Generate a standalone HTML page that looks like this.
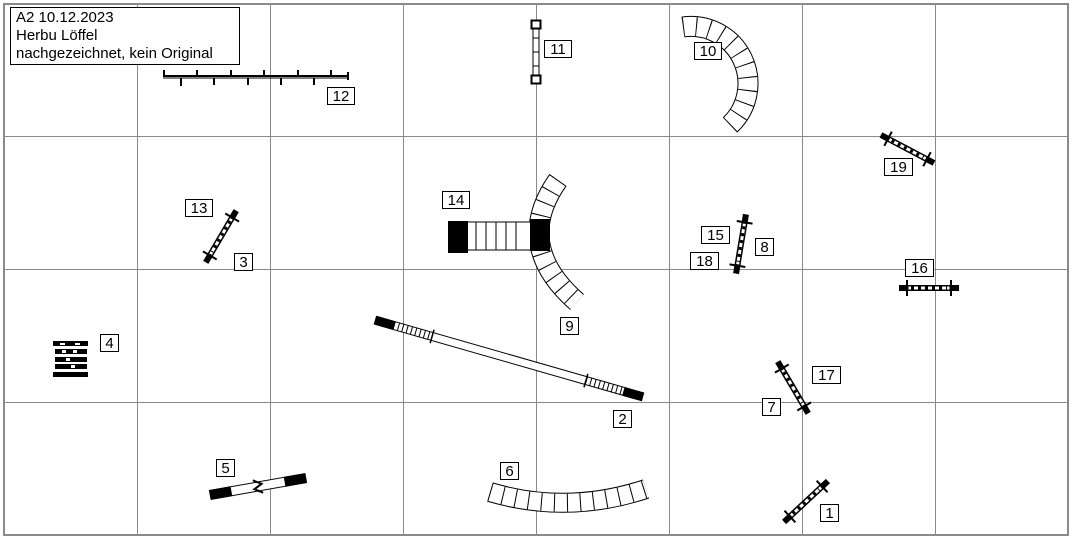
<!DOCTYPE html>
<html><head><meta charset="utf-8"><style>
html,body{margin:0;padding:0;background:#fff}
svg{display:block}
text{font-family:"Liberation Sans",Arial,sans-serif;font-size:15px;fill:#000}
</style></head><body>
<svg width="1071" height="539" viewBox="0 0 1071 539" xmlns="http://www.w3.org/2000/svg">
<defs>
<g id="jump">
  <rect x="-30" y="-3" width="60" height="6" fill="#000"/>
  <rect x="-21" y="-2" width="42" height="4" fill="#fff" stroke="#000" stroke-width="1"/>
  <line x1="-18" y1="0" x2="18" y2="0" stroke="#000" stroke-width="3" stroke-dasharray="3 4"/>
  <line x1="-22" y1="-8" x2="-22" y2="8" stroke="#000" stroke-width="2"/>
  <line x1="22" y1="-8" x2="22" y2="8" stroke="#000" stroke-width="2"/>
</g>
</defs>
<g stroke="#8a8a8a" stroke-width="1">
  <line x1="137.5" y1="4" x2="137.5" y2="535"/>
  <line x1="270.5" y1="4" x2="270.5" y2="535"/>
  <line x1="403.5" y1="4" x2="403.5" y2="535"/>
  <line x1="536.5" y1="4" x2="536.5" y2="535"/>
  <line x1="669.5" y1="4" x2="669.5" y2="535"/>
  <line x1="802.5" y1="4" x2="802.5" y2="535"/>
  <line x1="935.5" y1="4" x2="935.5" y2="535"/>
  <line x1="4" y1="136.5" x2="1068" y2="136.5"/>
  <line x1="4" y1="269.5" x2="1068" y2="269.5"/>
  <line x1="4" y1="402.5" x2="1068" y2="402.5"/>
</g>
<rect x="4" y="4" width="1064" height="531" fill="none" stroke="#8a8a8a" stroke-width="2"/>

<rect x="10.5" y="7.5" width="229" height="57" fill="#fff" stroke="#000"/>
<text x="16" y="22">A2 10.12.2023</text>
<text x="16" y="40">Herbu Löffel</text>
<text x="16" y="58">nachgezeichnet, kein Original</text>

<g stroke="#000" fill="none">
  <line x1="163" y1="76" x2="349" y2="76" stroke-width="2"/>
  <line x1="163" y1="78" x2="349" y2="78" stroke-width="1"/>
  <g stroke-width="2">
  <line x1="164" y1="70" x2="164" y2="76"/><line x1="197" y1="70" x2="197" y2="76"/><line x1="231" y1="70" x2="231" y2="76"/><line x1="264" y1="70" x2="264" y2="76"/><line x1="298" y1="70" x2="298" y2="76"/><line x1="331" y1="70" x2="331" y2="76"/>
  <line x1="181" y1="78" x2="181" y2="86"/><line x1="214" y1="78" x2="214" y2="85"/><line x1="248" y1="78" x2="248" y2="85"/><line x1="281" y1="78" x2="281" y2="85"/><line x1="314" y1="78" x2="314" y2="85"/><line x1="348" y1="72" x2="348" y2="80"/>
  </g>
</g>

<g stroke="#000" fill="#fff">
  <rect x="533" y="24" width="6" height="56" stroke-width="1"/>
  <line x1="533" y1="38" x2="539" y2="38"/><line x1="533" y1="52" x2="539" y2="52"/><line x1="533" y1="66" x2="539" y2="66"/>
  <rect x="531.5" y="20.5" width="9" height="8" stroke-width="2"/>
  <rect x="531.5" y="75.5" width="9" height="8" stroke-width="2"/>
</g>

<g fill="none">
  <path d="M683,27 A57,57 0 0 1 730,125" stroke="#000" stroke-width="21"/>
  <path d="M683,27 A57,57 0 0 1 730,125" stroke="#fff" stroke-width="19"/>
  <path d="M683,27 A57,57 0 0 1 730,125" stroke="#000" stroke-width="19" stroke-dasharray="1 12"/>

  <path d="M558,180 Q512,245 577,302" stroke="#000" stroke-width="21"/>
  <path d="M558,180 Q512,245 577,302" stroke="#fff" stroke-width="19"/>
  <path d="M558,180 Q512,245 577,302" stroke="#000" stroke-width="19" stroke-dasharray="1 12"/>

  <path d="M490,492 Q567,515 646,489" stroke="#000" stroke-width="20"/>
  <path d="M490,492 Q567,515 646,489" stroke="#fff" stroke-width="18"/>
  <path d="M490,492 Q567,515 646,489" stroke="#000" stroke-width="18" stroke-dasharray="1 12"/>
</g>

<rect x="466" y="222" width="66" height="28" fill="#fff" stroke="#000"/>
<g stroke="#000"><line x1="476" y1="222" x2="476" y2="250"/><line x1="486" y1="222" x2="486" y2="250"/><line x1="496" y1="222" x2="496" y2="250"/><line x1="506" y1="222" x2="506" y2="250"/><line x1="516" y1="222" x2="516" y2="250"/></g>
<rect x="448" y="221" width="20" height="32" fill="#000"/>
<rect x="530" y="219" width="20" height="32" fill="#000"/>

<g transform="translate(509,358.5) rotate(16)">
  <rect x="-139" y="-4" width="278" height="8" fill="#fff" stroke="#000"/>
  <line x1="-120" y1="0" x2="-80" y2="0" stroke="#000" stroke-width="8" stroke-dasharray="1 3.5"/>
  <line x1="80" y1="0" x2="120" y2="0" stroke="#000" stroke-width="8" stroke-dasharray="1 3.5"/>
  <rect x="-139" y="-4.5" width="20" height="9" fill="#000"/>
  <rect x="119" y="-4.5" width="20" height="9" fill="#000"/>
  <line x1="-80" y1="-7" x2="-80" y2="7" stroke="#000" stroke-width="1.5"/>
  <line x1="80" y1="-7" x2="80" y2="7" stroke="#000" stroke-width="1.5"/>
</g>

<g transform="translate(258,486.5) rotate(-10)">
  <rect x="-48" y="-4.5" width="96" height="9" fill="#fff" stroke="#000"/>
  <rect x="-49" y="-5" width="22" height="10" fill="#000"/>
  <rect x="27" y="-5" width="22" height="10" fill="#000"/>
  <polyline points="-4,-7 4,-2 -4,2 4,7" fill="none" stroke="#000" stroke-width="2"/>
</g>

<g fill="#000">
  <rect x="53" y="341" width="35" height="5"/>
  <rect x="55" y="349" width="32" height="5"/>
  <rect x="55" y="357" width="32" height="5"/>
  <rect x="55" y="364" width="32" height="5"/>
  <rect x="53" y="372" width="35" height="5"/>
</g>
<g fill="#fff">
  <rect x="60" y="343" width="5" height="2"/><rect x="75" y="343" width="5" height="2"/>
  <rect x="62" y="350" width="4" height="3"/><rect x="73" y="350" width="4" height="3"/>
  <rect x="66" y="358" width="4" height="3"/><rect x="71" y="365" width="4" height="3"/>
</g>

<use href="#jump" transform="translate(221,236.5) rotate(120.5)"/>
<use href="#jump" transform="translate(741,244) rotate(99.5)"/>
<use href="#jump" transform="translate(907.5,149) rotate(27.8)"/>
<use href="#jump" transform="translate(929,288)"/>
<use href="#jump" transform="translate(793,387.5) rotate(59.5)"/>
<use href="#jump" transform="translate(806,501.5) rotate(-43)"/>

<g fill="#fff" stroke="#000">
  <rect x="327.5" y="87.5" width="27" height="17"/>
  <rect x="544.5" y="40.5" width="27" height="17"/>
  <rect x="694.5" y="42.5" width="27" height="17"/>
  <rect x="884.5" y="158.5" width="28" height="17"/>
  <rect x="185.5" y="199.5" width="27" height="17"/>
  <rect x="234.5" y="253.5" width="18" height="17"/>
  <rect x="442.5" y="191.5" width="27" height="17"/>
  <rect x="701.5" y="226.5" width="28" height="17"/>
  <rect x="690.5" y="252.5" width="28" height="17"/>
  <rect x="755.5" y="238.5" width="18" height="17"/>
  <rect x="905.5" y="259.5" width="28" height="17"/>
  <rect x="100.5" y="334.5" width="18" height="17"/>
  <rect x="560.5" y="317.5" width="18" height="17"/>
  <rect x="812.5" y="366.5" width="28" height="17"/>
  <rect x="762.5" y="398.5" width="18" height="17"/>
  <rect x="613.5" y="410.5" width="18" height="17"/>
  <rect x="216.5" y="459.5" width="18" height="17"/>
  <rect x="500.5" y="462.5" width="18" height="17"/>
  <rect x="820.5" y="504.5" width="18" height="17"/>
</g>
<g text-anchor="middle">
  <text x="341" y="101">12</text>
  <text x="558" y="54">11</text>
  <text x="708" y="56">10</text>
  <text x="898.5" y="172">19</text>
  <text x="199" y="213">13</text>
  <text x="243.5" y="267">3</text>
  <text x="456" y="205">14</text>
  <text x="715.5" y="240">15</text>
  <text x="704.5" y="266">18</text>
  <text x="764.5" y="252">8</text>
  <text x="919.5" y="273">16</text>
  <text x="109.5" y="348">4</text>
  <text x="569.5" y="331">9</text>
  <text x="826.5" y="380">17</text>
  <text x="771.5" y="412">7</text>
  <text x="622.5" y="424">2</text>
  <text x="225.5" y="473">5</text>
  <text x="509.5" y="476">6</text>
  <text x="829.5" y="518">1</text>
</g>
</svg>
</body></html>
